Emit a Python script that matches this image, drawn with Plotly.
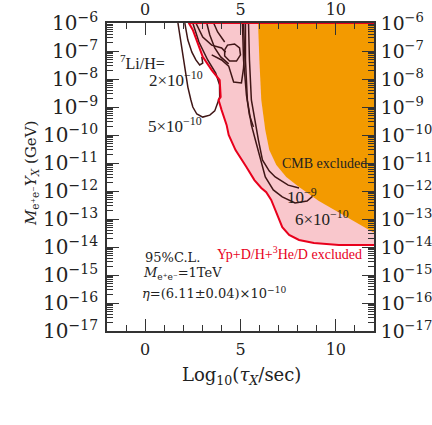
import numpy as np
import plotly.graph_objects as go

# x = log10(tau_X / sec), y given as log10 of M*Y_X (GeV)
cmb_x = [5.92, 5.99, 6.09, 6.30, 6.51, 6.88, 7.40, 8.07, 9.11, 11.93, 12.0, 12.0]
cmb_y = [-6.0, -7.32, -8.75, -9.82, -10.54, -11.07, -11.50, -11.86, -12.36, -13.46, -13.48, -6.0]

bbn_x = [2.29, 2.50, 3.02, 3.49, 3.91, 3.96, 3.85, 4.01, 4.27, 4.38, 4.74, 5.31, 5.73,
         6.09, 6.35, 6.61, 6.88, 7.19, 7.55, 8.07, 8.85, 10.16, 12.0]
bbn_y = [-6.0, -6.25, -7.21, -7.68, -8.04, -8.64, -8.75, -9.11, -9.64, -10.0, -10.54, -11.14, -11.61,
         -11.89, -12.04, -12.32, -12.75, -13.29, -13.57, -13.75, -13.86, -13.93, -13.93]

# 7Li/H contours
li_5e10_x = [1.72, 1.82, 1.98, 2.14, 2.24, 2.40, 2.50, 2.71, 3.02, 3.39, 3.65, 3.80, 3.91, 3.90, 3.70, 3.28, 2.82, 2.50]
li_5e10_y = [-6.0, -6.43, -7.07, -7.86, -8.29, -8.75, -9.0, -9.25, -9.36, -9.29, -9.14, -8.86, -8.64,
             -8.21, -7.79, -7.32, -6.68, -6.0]
li_2e10_x = [2.08, 2.24, 2.45, 2.66, 2.86, 3.02, 2.97]
li_2e10_y = [-6.0, -6.61, -7.04, -7.32, -7.50, -7.43, -7.21]
li_1e9_x = [5.42, 5.47, 5.57, 5.78, 5.94, 6.15, 6.51, 6.82, 7.50, 8.07]
li_1e9_y = [-6.0, -7.32, -8.75, -9.64, -10.18, -10.89, -11.29, -11.50, -11.79, -11.89]
li_6e10_x = [5.26, 5.26, 5.36, 5.57, 5.78, 6.04, 6.30, 6.72, 7.19, 7.86, 8.49, 8.91]
li_6e10_y = [-6.0, -7.32, -8.75, -9.64, -10.18, -10.89, -11.50, -11.96, -12.21, -12.43, -12.36, -12.11]
li_a_x = [5.10, 5.16, 5.31, 5.47, 5.68]
li_a_y = [-6.0, -7.32, -8.57, -9.29, -9.71]
li_b_x = [2.66, 3.02, 3.49, 4.01, 4.22]
li_b_y = [-6.0, -6.50, -6.79, -6.89, -7.04]
li_c_x = [3.23, 3.39, 3.65, 3.96, 4.38]
li_c_y = [-6.0, -6.43, -6.89, -7.21, -7.46]
li_d_x = [3.59, 3.80, 4.17]
li_d_y = [-6.0, -6.32, -6.68]
li_ring_x = [4.17, 4.32, 4.69, 4.95, 5.00, 4.79, 4.43, 4.17, 4.17]
li_ring_y = [-6.96, -6.79, -6.75, -6.89, -7.14, -7.36, -7.36, -7.18, -6.96]
li_trap_x = [3.49, 4.01, 4.38, 4.64, 5.05, 5.16, 5.21, 5.16]
li_trap_y = [-7.14, -7.32, -7.54, -8.11, -8.14, -7.61, -6.96, -6.0]

contours = [
    (li_5e10_x, li_5e10_y), (li_2e10_x, li_2e10_y), (li_1e9_x, li_1e9_y),
    (li_6e10_x, li_6e10_y), (li_a_x, li_a_y), (li_b_x, li_b_y), (li_c_x, li_c_y),
    (li_d_x, li_d_y), (li_ring_x, li_ring_y), (li_trap_x, li_trap_y),
]

ORANGE = "#f39a00"
PINK = "#f9c7cc"
RED = "#e8001c"
BROWN = "#3f1616"
AXIS = "#333333"
TIMES = "Liberation Serif"
WIDE = "DejaVu Serif"


def lin(v):
    return list(10 ** np.array(v, dtype=float))


fig = go.Figure()

# pink BBN exclusion (filled to the top / right edges)
fig.add_trace(go.Scatter(
    x=bbn_x + [12.0, 12.0, bbn_x[0]], y=lin(bbn_y + [-13.93, -6.0, bbn_y[0]]),
    fill="toself", fillcolor=PINK, mode="none", hoverinfo="skip"))

for cx, cy in contours:
    fig.add_trace(go.Scatter(x=cx, y=lin(cy), mode="lines",
                             line=dict(color=BROWN, width=1.5), hoverinfo="skip"))

fig.add_trace(go.Scatter(x=cmb_x + [cmb_x[0]], y=lin(cmb_y + [cmb_y[0]]),
                         fill="toself", fillcolor=ORANGE, mode="none", hoverinfo="skip"))

fig.add_trace(go.Scatter(x=[12.0] + bbn_x, y=lin([-6.0] + bbn_y), mode="lines",
                         line=dict(color=RED, width=2), hoverinfo="skip"))

fig.add_trace(go.Scatter(x=[None], y=[None], xaxis="x2", yaxis="y2", hoverinfo="skip"))

tickfont = dict(family=WIDE, size=16, color="#222")
common_x = dict(range=[-2, 12], tick0=0, dtick=5, ticks="inside", ticklen=12, tickwidth=1.3,
                tickcolor=AXIS, minor=dict(dtick=1, ticks="inside", ticklen=6, tickcolor=AXIS),
                showline=True, linecolor=AXIS, linewidth=1.5, showgrid=False, zeroline=False,
                tickfont=tickfont, automargin=False)
common_y = dict(type="log", range=[-17, -6], dtick=1, ticks="inside", ticklen=12, tickwidth=1.3,
                tickcolor=AXIS, minor=dict(dtick="D1", ticks="inside", ticklen=6, tickcolor=AXIS),
                exponentformat="power", showline=True, linecolor=AXIS, linewidth=1.5,
                showgrid=False, zeroline=False, tickfont=tickfont, automargin=False)

fig.update_layout(
    width=432, height=425,
    margin=dict(l=107, r=58, t=23, b=94, autoexpand=False),
    paper_bgcolor="white", plot_bgcolor="white",
    showlegend=False,
    xaxis=dict(common_x, side="bottom", ticklabelstandoff=3),
    xaxis2=dict(common_x, side="top", overlaying="x", anchor="y"),
    yaxis=dict(common_y, side="left", ticklabelstandoff=4),
    yaxis2=dict(common_y, side="right", overlaying="y", anchor="x", ticklabelstandoff=2,
                tickfont=dict(tickfont, size=15)),
)

li = dict(family=TIMES, size=17, color="#222")
cm = dict(family=WIDE, size=13, color="#222")
notes = [
    (-1.41, -7.39, "<sup>7</sup>Li/H=", "left", dict(li, size=16)),
    (0.12, -8.0, "2×10<sup>−10</sup>", "left", li),
    (0.07, -9.64, "5×10<sup>−10</sup>", "left", li),
    (9.4, -11.0, "CMB excluded", "center", dict(li, size=14)),
    (8.23, -12.18, "10<sup>−9</sup>", "center", li),
    (9.27, -12.96, "6×10<sup>−10</sup>", "center", li),
    (7.55, -14.21, "Yp+D/H+<sup>3</sup>He/D excluded", "center", dict(li, size=14, color=RED)),
    (-0.1, -14.36, "95%C.L.", "left", cm),
    (-0.2, -14.96, "<i>M</i><sub>e⁺e⁻</sub>=1TeV", "left", cm),
    (-0.25, -15.64, "<i>η</i>=(6.11±0.04)×10<sup>−10</sup>", "left", cm),
]
for x, y, t, xa, f in notes:
    fig.add_annotation(x=x, y=y, text=t, showarrow=False, xanchor=xa, yanchor="middle", font=f)

fig.add_annotation(xref="paper", yref="paper", x=(241 - 107) / 267, y=(331 - 376) / 308,
                   text="Log<sub>10</sub>(<i>τ<sub>X</sub></i>/sec)", showarrow=False,
                   font=dict(family=WIDE, size=18, color="#222"), yanchor="middle")
fig.add_annotation(xref="paper", yref="paper", x=(31 - 107) / 267, y=(331 - 174) / 308,
                   text="<i>M</i><sub>e⁺e⁻</sub><i>Y</i><sub><i>X</i></sub> (GeV)", textangle=-90,
                   showarrow=False, font=dict(family=WIDE, size=15, color="#222"),
                   xanchor="center", yanchor="middle")

# drop the default page margin and scrollbars so the figure fills the window exactly
fig.write_html(
    "out.html",
    config={"displayModeBar": False},
    post_script=(
        "document.documentElement.style.overflow = 'hidden';"
        "document.body.style.margin = '0';"
        "document.body.style.overflow = 'hidden';"
        "window.scrollTo(0, 0);"
    ),
)
